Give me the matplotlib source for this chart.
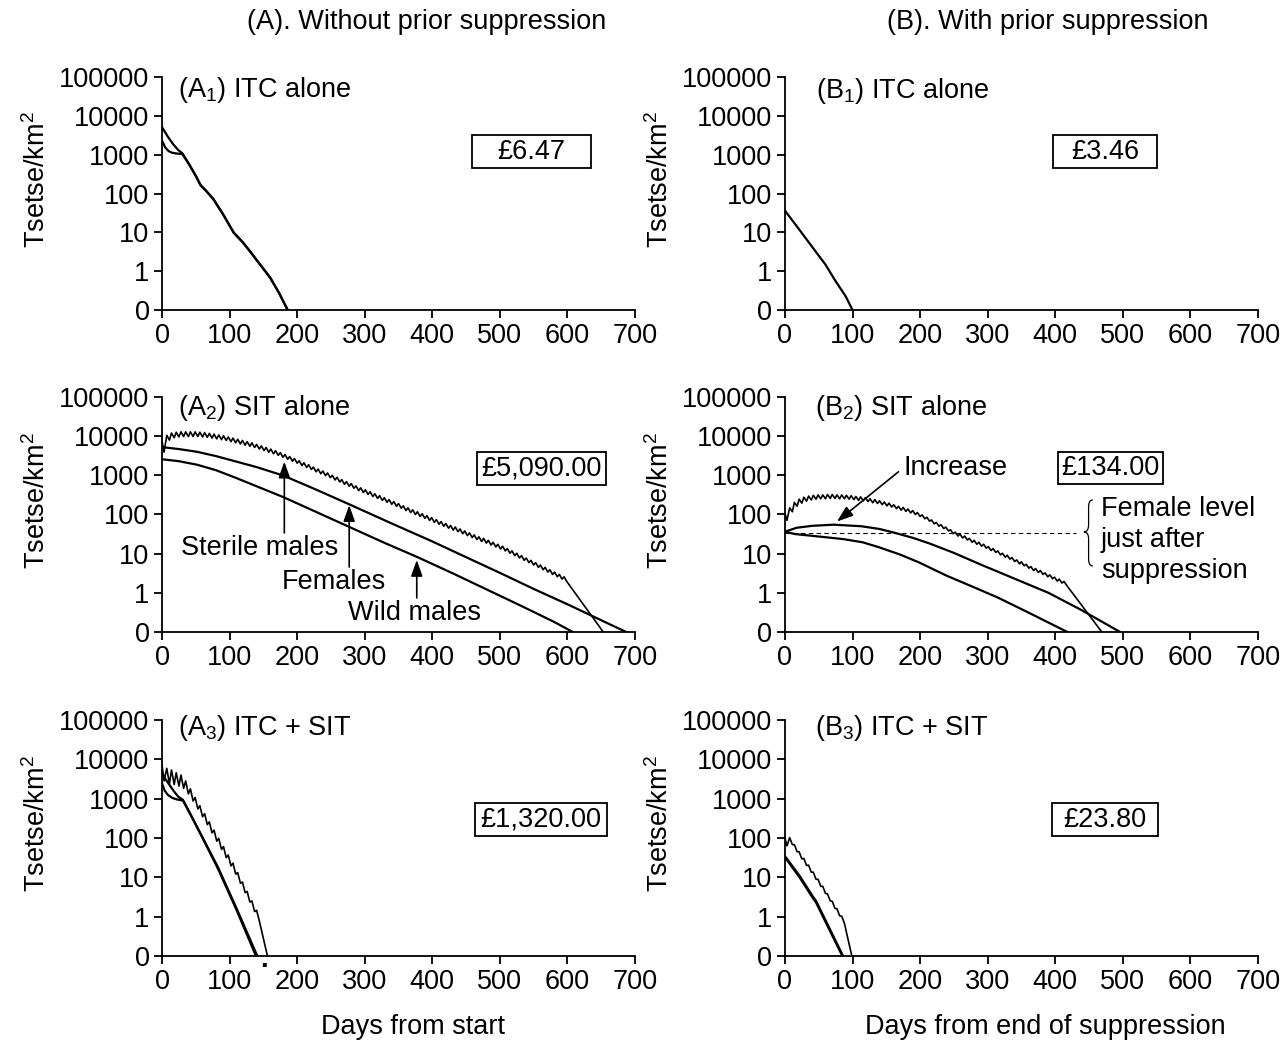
import matplotlib.pyplot as plt
from matplotlib.patches import Rectangle, PathPatch
from matplotlib.path import Path

plt.rcParams['font.family'] = ['Liberation Sans', 'DejaVu Sans']
plt.rcParams['mathtext.fontset'] = 'custom'
plt.rcParams['mathtext.rm'] = 'Liberation Sans'
plt.rcParams['mathtext.it'] = 'Liberation Sans:italic'
plt.rcParams['font.size'] = 19.5

# axes: values are log10(tsetse/km2); the "0" tick is the floor at 0.1
y_ticks = [-1, 0, 1, 2, 3, 4, 5]
y_tick_labels = ['0', '1', '10', '100', '1000', '10000', '100000']
x_ticks = [0, 100, 200, 300, 400, 500, 600, 700]

# ---- (A1) ITC alone
a1_fem_days = [0, 8, 16, 24, 30, 40, 50, 57, 65, 76, 90, 106, 120, 130, 145, 160, 173, 186]
a1_fem_log = [3.71, 3.48, 3.28, 3.12, 3.04, 2.76, 2.46, 2.22, 2.08, 1.86, 1.48, 1.00, 0.74, 0.52, 0.18, -0.16, -0.55, -1.0]
a1_wild_days = [0, 5, 10, 15, 22, 30, 40, 50, 57, 65, 76, 90, 106, 120, 130, 145, 160, 173, 186]
a1_wild_log = [3.36, 3.18, 3.09, 3.05, 3.03, 3.02, 2.75, 2.45, 2.21, 2.07, 1.85, 1.47, 0.99, 0.73, 0.51, 0.17, -0.17, -0.56, -1.0]

# ---- (B1) ITC alone
b1_days = [0, 20, 44, 60, 74, 90, 100]
b1_log = [1.56, 1.10, 0.54, 0.17, -0.23, -0.65, -1.0]

# ---- (A2) SIT alone
a2_fem_days = [0, 25, 52, 80, 110, 140, 180, 230, 277, 340, 399, 450, 500, 550, 601, 650, 687]
a2_fem_log = [3.72, 3.67, 3.60, 3.49, 3.35, 3.21, 2.99, 2.62, 2.26, 1.77, 1.32, 0.91, 0.51, 0.10, -0.30, -0.70, -1.0]
a2_wild_days = [0, 25, 52, 80, 110, 140, 180, 230, 280, 330, 377, 430, 480, 530, 580, 608]
a2_wild_log = [3.41, 3.36, 3.27, 3.13, 2.93, 2.72, 2.44, 2.05, 1.66, 1.27, 0.92, 0.50, 0.09, -0.32, -0.74, -1.0]
a2_ster_head_days = [0, 3]
a2_ster_head_log = [3.87, 3.59]
a2_release_days = list(range(7, 596, 7))
a2_ster_peak = [4.02, 4.08, 4.10, 4.11, 4.11, 4.11, 4.11, 4.10, 4.09, 4.07, 4.05, 4.03, 4.01, 3.98, 3.95,
                3.92, 3.89, 3.86, 3.83, 3.79, 3.75, 3.71, 3.67, 3.63, 3.58, 3.53, 3.48, 3.43, 3.37, 3.32,
                3.27, 3.21, 3.16, 3.11, 3.06, 3.00, 2.95, 2.89, 2.84, 2.79, 2.73, 2.68, 2.63, 2.58, 2.53,
                2.48, 2.43, 2.38, 2.33, 2.28, 2.22, 2.17, 2.12, 2.07, 2.02, 1.97, 1.92, 1.87, 1.82, 1.77,
                1.72, 1.68, 1.63, 1.58, 1.53, 1.48, 1.43, 1.39, 1.34, 1.29, 1.24, 1.19, 1.13, 1.07, 1.01,
                0.95, 0.89, 0.83, 0.77, 0.71, 0.65, 0.59, 0.53, 0.47, 0.41]
a2_ster_trough = [3.90, 3.96, 3.98, 3.99, 3.99, 3.99, 3.99, 3.98, 3.97, 3.95, 3.93, 3.91, 3.89, 3.86, 3.83,
                  3.80, 3.77, 3.74, 3.71, 3.67, 3.63, 3.59, 3.55, 3.51, 3.46, 3.41, 3.36, 3.31, 3.25, 3.20,
                  3.15, 3.09, 3.04, 2.99, 2.94, 2.88, 2.83, 2.77, 2.72, 2.67, 2.61, 2.56, 2.51, 2.46, 2.41,
                  2.36, 2.31, 2.26, 2.21, 2.16, 2.10, 2.05, 2.00, 1.95, 1.90, 1.85, 1.80, 1.75, 1.70, 1.65,
                  1.60, 1.56, 1.51, 1.46, 1.41, 1.36, 1.31, 1.27, 1.22, 1.17, 1.12, 1.07, 1.01, 0.95, 0.89,
                  0.83, 0.77, 0.71, 0.65, 0.59, 0.53, 0.47, 0.41, 0.35, 0.29]
a2_ster_tail_days = [653]
a2_ster_tail_log = [-1.0]

# ---- (B2) SIT alone
b2_fem_days = [0, 17, 40, 72, 113, 140, 163, 190, 214, 250, 290, 340, 390, 440, 496]
b2_fem_log = [1.56, 1.66, 1.71, 1.74, 1.70, 1.63, 1.53, 1.40, 1.26, 1.02, 0.72, 0.36, 0.0, -0.45, -1.0]
b2_wild_days = [0, 15, 32, 60, 87, 115, 138, 170, 198, 239, 280, 315, 360, 418]
b2_wild_log = [1.56, 1.50, 1.47, 1.42, 1.37, 1.29, 1.17, 0.98, 0.78, 0.44, 0.14, -0.12, -0.50, -1.0]
b2_level_days = [0, 431]
b2_level_log = [1.54, 1.54]
b2_ster_head_days = [0, 3]
b2_ster_head_log = [2.03, 1.85]
b2_release_days = list(range(7, 414, 7))
b2_ster_peak = [2.17, 2.31, 2.39, 2.44, 2.47, 2.49, 2.50, 2.50, 2.51, 2.51, 2.50, 2.50, 2.49, 2.48, 2.46,
                2.45, 2.43, 2.40, 2.38, 2.35, 2.32, 2.29, 2.25, 2.21, 2.18, 2.14, 2.10, 2.05, 1.99, 1.93,
                1.86, 1.80, 1.74, 1.68, 1.61, 1.55, 1.50, 1.45, 1.39, 1.34, 1.29, 1.24, 1.18, 1.13, 1.07,
                1.01, 0.96, 0.90, 0.84, 0.79, 0.73, 0.67, 0.62, 0.57, 0.51, 0.46, 0.40, 0.35, 0.29]
b2_ster_trough = [2.07, 2.21, 2.29, 2.34, 2.37, 2.39, 2.40, 2.40, 2.41, 2.41, 2.40, 2.40, 2.39, 2.38, 2.36,
                  2.35, 2.33, 2.30, 2.28, 2.25, 2.22, 2.19, 2.15, 2.11, 2.08, 2.04, 2.00, 1.95, 1.89, 1.83,
                  1.76, 1.70, 1.64, 1.58, 1.51, 1.45, 1.40, 1.35, 1.29, 1.24, 1.19, 1.14, 1.08, 1.03, 0.97,
                  0.91, 0.86, 0.80, 0.74, 0.69, 0.63, 0.57, 0.52, 0.47, 0.41, 0.36, 0.30, 0.25, 0.19]
b2_ster_tail_days = [469]
b2_ster_tail_log = [-1.0]

# ---- (A3) ITC + SIT
a3_fem_days = [0, 5, 11, 17, 24, 31, 45, 60, 83, 110, 141]
a3_fem_log = [3.66, 3.50, 3.35, 3.20, 3.05, 2.97, 2.51, 2.01, 1.25, 0.22, -1.0]
a3_wild_days = [0, 4, 9, 15, 22, 31, 45, 60, 83, 110, 139]
a3_wild_log = [3.39, 3.20, 3.09, 3.02, 2.98, 2.95, 2.50, 2.00, 1.21, 0.18, -1.0]
a3_ster_head_days = [0, 3]
a3_ster_head_log = [3.85, 3.45]
a3_release_days = list(range(7, 141, 7))
a3_ster_peak = [3.77, 3.73, 3.66, 3.60, 3.45, 3.25, 3.03, 2.82, 2.62, 2.41,
                2.20, 1.99, 1.78, 1.57, 1.36, 1.12, 0.88, 0.64, 0.40, 0.16]
a3_ster_trough = [3.38, 3.36, 3.32, 3.26, 3.12, 2.94, 2.74, 2.54, 2.34, 2.13,
                  1.92, 1.71, 1.50, 1.29, 1.08, 0.85, 0.61, 0.37, 0.13, -0.11]
a3_ster_tail_days = [156]
a3_ster_tail_log = [-1.0]

# ---- (B3) ITC + SIT
b3_fem_days = [0, 22, 41, 46, 60, 72, 86]
b3_fem_log = [1.54, 1.03, 0.52, 0.40, -0.09, -0.51, -1.0]
b3_wild_days = [0, 22, 41, 46, 60, 72, 85]
b3_wild_log = [1.51, 0.99, 0.48, 0.36, -0.13, -0.55, -1.0]
b3_ster_head_days = [0, 3]
b3_ster_head_log = [2.00, 1.80]
b3_release_days = list(range(7, 85, 7))
b3_ster_peak = [2.01, 1.83, 1.65, 1.48, 1.31, 1.13, 0.95, 0.77, 0.58, 0.39, 0.20, 0.01]
b3_ster_trough = [1.83, 1.65, 1.47, 1.30, 1.13, 0.95, 0.77, 0.59, 0.40, 0.21, 0.02, -0.17]
b3_ster_tail_days = [99]
b3_ster_tail_log = [-1.0]


def sterile_curve(head_d, head_v, rel_days, peaks, troughs, tail_d, tail_v):
    # weekly releases: peak on release day, lowest point a few days later
    xs, ys = list(head_d), list(head_v)
    for d, p, t in zip(rel_days, peaks, troughs):
        xs += [d, d + 4]
        ys += [p, t]
    return xs + list(tail_d), ys + list(tail_v)


def setup(ax):
    ax.set_xlim(0, 700)
    ax.set_ylim(-1, 5)
    ax.set_xticks(x_ticks)
    ax.set_yticks(y_ticks)
    ax.set_yticklabels(y_tick_labels)
    for s in ['top', 'right']:
        ax.spines[s].set_visible(False)
    for s in ['left', 'bottom']:
        ax.spines[s].set_linewidth(1.3)
    ax.tick_params(axis='both', direction='out', length=6, width=1.3, labelsize=19.5)
    ax.tick_params(axis='y', pad=3)
    ax.tick_params(axis='x', pad=3.5)
    ax.set_ylabel('Tsetse/km$^2$', fontsize=19.5)
    ax.yaxis.set_label_coords(-0.235, 0.56)


def cost_box(ax, x0, y0, w, h, label):
    ax.add_patch(Rectangle((x0, y0), w, h, transform=ax.transAxes, fill=False,
                           edgecolor='black', linewidth=1.3, clip_on=False))
    ax.text(x0 + w / 2, y0 + h / 2, label, transform=ax.transAxes,
            ha='center', va='center')


arrow_kw = dict(arrowstyle='-|>,head_length=0.7,head_width=0.25', color='black',
                lw=1.2, mutation_scale=14, shrinkA=0, shrinkB=0)
lw_main = 1.6
lw_ster = 1.2

fig = plt.figure(figsize=(12.87, 10.4), dpi=100)
col_left = [0.1259, 0.6099]
col_w = 0.3675
rows = [(0.7019, 0.2240), (0.3923, 0.2260), (0.0808, 0.2269)]

axes = {}
for r, (b, h) in enumerate(rows):
    for c, left in enumerate(col_left):
        ax = fig.add_axes([left, b, col_w, h])
        setup(ax)
        axes[(r, c)] = ax

# A1
ax = axes[(0, 0)]
ax.plot(a1_fem_days, a1_fem_log, color='black', lw=lw_main)
ax.plot(a1_wild_days, a1_wild_log, color='black', lw=lw_main)
ax.text(0.034, 0.914, r'(A$_1$) ITC alone', transform=ax.transAxes, va='baseline')
cost_box(ax, 0.655, 0.609, 0.252, 0.142, '£6.47')

# B1
ax = axes[(0, 1)]
ax.plot(b1_days, b1_log, color='black', lw=lw_main)
ax.text(0.066, 0.91, r'(B$_1$) ITC alone', transform=ax.transAxes, va='baseline')
cost_box(ax, 0.567, 0.609, 0.220, 0.142, '£3.46')

# A2
ax = axes[(1, 0)]
xs, ys = sterile_curve(a2_ster_head_days, a2_ster_head_log, a2_release_days,
                       a2_ster_peak, a2_ster_trough, a2_ster_tail_days, a2_ster_tail_log)
ax.plot(xs, ys, color='black', lw=lw_ster)
ax.plot(a2_fem_days, a2_fem_log, color='black', lw=lw_main)
ax.plot(a2_wild_days, a2_wild_log, color='black', lw=lw_main)
ax.text(0.034, 0.923, r'(A$_2$) SIT alone', transform=ax.transAxes, va='baseline')
cost_box(ax, 0.666, 0.626, 0.273, 0.140, '£5,090.00')
ax.annotate('', xy=(181, 3.35), xytext=(181, 1.53), arrowprops=arrow_kw)
ax.text(145, 1.15, 'Sterile males', ha='center', va='center')
ax.annotate('', xy=(277, 2.24), xytext=(277, 0.66), arrowprops=arrow_kw)
ax.text(254, 0.28, 'Females', ha='center', va='center')
ax.annotate('', xy=(377, 0.84), xytext=(377, -0.13), arrowprops=arrow_kw)
ax.text(374, -0.51, 'Wild males', ha='center', va='center')

# B2
ax = axes[(1, 1)]
xs, ys = sterile_curve(b2_ster_head_days, b2_ster_head_log, b2_release_days,
                       b2_ster_peak, b2_ster_trough, b2_ster_tail_days, b2_ster_tail_log)
ax.plot(xs, ys, color='black', lw=lw_ster)
ax.plot(b2_fem_days, b2_fem_log, color='black', lw=lw_main)
ax.plot(b2_wild_days, b2_wild_log, color='black', lw=lw_main)
ax.plot(b2_level_days, b2_level_log, color='black', lw=0.8, linestyle=(0, (4, 3)))
ax.text(0.063, 0.923, r'(B$_2$) SIT alone', transform=ax.transAxes, va='baseline')
cost_box(ax, 0.577, 0.630, 0.222, 0.136, '£134.00')
ax.annotate('', xy=(77, 1.82), xytext=(168, 3.09), arrowprops=arrow_kw)
ax.text(253, 3.19, 'Increase', ha='center', va='center')
ax.text(0.668, 0.391, 'Female level\njust after\nsuppression', transform=ax.transAxes,
        ha='left', va='center', linespacing=1.25)
# curly brace next to the note
xt, xm, xe = 0.632, 0.642, 0.651
yt, ymid, yb, rr = 0.562, 0.426, 0.281, 0.03
brace = Path([(xe, yt), (xm, yt), (xm, yt - rr), (xm, ymid + rr), (xm, ymid), (xt, ymid),
              (xm, ymid), (xm, ymid - rr), (xm, yb + rr), (xm, yb), (xe, yb)],
             [Path.MOVETO, Path.CURVE3, Path.CURVE3, Path.LINETO, Path.CURVE3, Path.CURVE3,
              Path.CURVE3, Path.CURVE3, Path.LINETO, Path.CURVE3, Path.CURVE3])
ax.add_patch(PathPatch(brace, transform=ax.transAxes, fill=False, lw=0.9,
                       edgecolor='black', clip_on=False))

# A3
ax = axes[(2, 0)]
xs, ys = sterile_curve(a3_ster_head_days, a3_ster_head_log, a3_release_days,
                       a3_ster_peak, a3_ster_trough, a3_ster_tail_days, a3_ster_tail_log)
ax.plot(xs, ys, color='black', lw=lw_ster)
ax.plot(a3_fem_days, a3_fem_log, color='black', lw=lw_main)
ax.plot(a3_wild_days, a3_wild_log, color='black', lw=lw_main)
ax.text(0.034, 0.936, r'(A$_3$) ITC + SIT', transform=ax.transAxes, va='baseline')
cost_box(ax, 0.662, 0.508, 0.279, 0.140, '£1,320.00')
ax.text(0.218, -0.047, '·', transform=ax.transAxes, ha='center', va='center', fontweight='bold')

# B3
ax = axes[(2, 1)]
xs, ys = sterile_curve(b3_ster_head_days, b3_ster_head_log, b3_release_days,
                       b3_ster_peak, b3_ster_trough, b3_ster_tail_days, b3_ster_tail_log)
ax.plot(xs, ys, color='black', lw=lw_ster)
ax.plot(b3_fem_days, b3_fem_log, color='black', lw=lw_main)
ax.plot(b3_wild_days, b3_wild_log, color='black', lw=lw_main)
ax.text(0.063, 0.936, r'(B$_3$) ITC + SIT', transform=ax.transAxes, va='baseline')
cost_box(ax, 0.564, 0.508, 0.224, 0.140, '£23.80')

# column titles and x labels
fig.text(427 / 1287, 1 - 22 / 1040, '(A). Without prior suppression', ha='center', va='center')
fig.text(1048 / 1287, 1 - 22 / 1040, '(B). With prior suppression', ha='center', va='center')
fig.text(413 / 1287, 1 - 1027 / 1040, 'Days from start', ha='center', va='center')
fig.text(1045 / 1287, 1 - 1027 / 1040, 'Days from end of suppression', ha='center', va='center')

fig.savefig('out.png', dpi=100)
plt.close(fig)
